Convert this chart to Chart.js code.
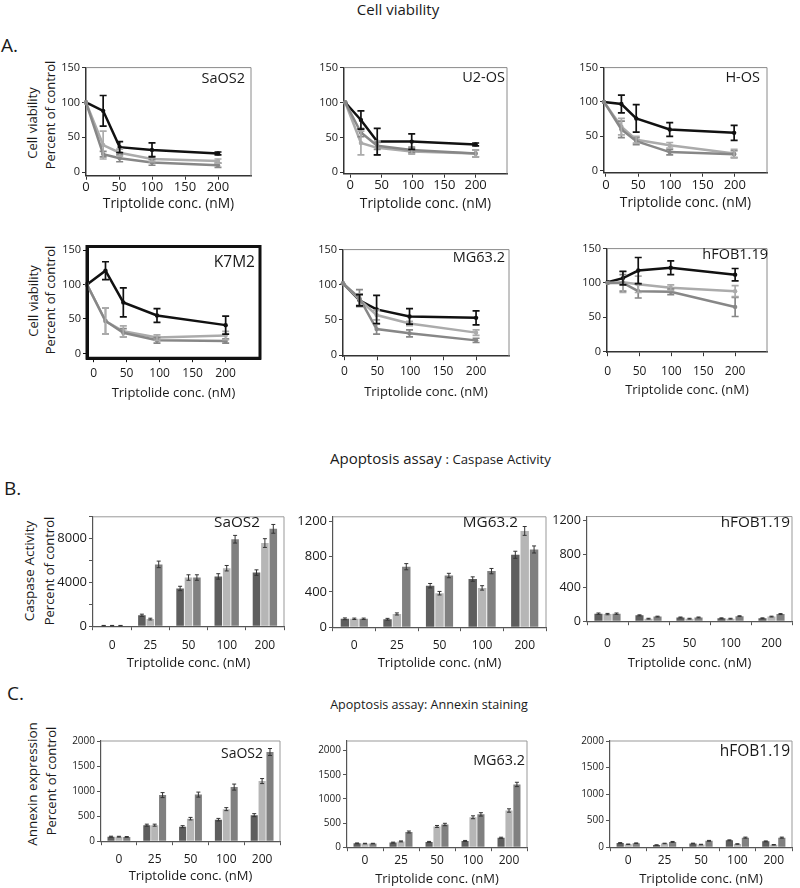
<!DOCTYPE html>
<html><head><meta charset="utf-8">
<script src="https://cdn.jsdelivr.net/npm/chart.js@4.4.0/dist/chart.umd.min.js"></script>
<style>
body{margin:0;background:#fff;font-family:'Open Sans',sans-serif;color:#1a1a1a}
#root{position:relative;width:800px;height:888px;overflow:hidden;background:#fff}
.t{position:absolute;white-space:nowrap;line-height:1;color:#1a1a1a}
canvas{position:absolute}
</style></head><body><div id="root"></div>
<script>
// ---------- shared labels / ticks ----------
const concLabels = ['0','25','50','100','200'];
const viabYTicks = [0,50,100,150];
const viabXTicks = [0,50,100,150,200];
const casSaosTicks = [0,2000,4000,6000,8000,10000];
const casSaosLabels = [0,4000,8000];
const casSmallTicks = [0,200,400,600,800,1000,1200];
const casSmallLabels = [0,400,800,1200];
const annTicks = [0,500,1000,1500,2000];

// ---------- A: cell viability ----------
const vSaos2X = [0,26,51,100,200];
const vSaos2Black = [100,88,36,32,27];
const vSaos2BlackErr = [0,22,8,10,2];
const vSaos2Light = [100,39,28,19,16];
const vSaos2LightErr = [0,20,5,4,3];
const vSaos2Mid = [100,26,20,14,10];
const vSaos2MidErr = [0,4,5,4,3];

const vU2osX = [-8,17,43,98,200];
const vU2osBlack = [100,75,44,44,40];
const vU2osBlackErr = [0,13,19,11,2];
const vU2osLight = [100,42,35,30,27];
const vU2osLightErr = [0,17,10,4,5];
const vU2osMid = [100,57,38,32,27];
const vU2osMidErr = [0,6,5,4,5];

const vHosX = [-3,24,47,99,199];
const vHosBlack = [100,97,76,60,55];
const vHosBlackErr = [0,13,20,10,11];
const vHosLight = [100,64,45,37,25];
const vHosLightErr = [0,12,5,4,6];
const vHosMid = [100,60,43,27,24];
const vHosMidErr = [0,12,5,4,5];

const vK7X = [-10,18,45,96,200];
const vK7Black = [100,120,74,55,41];
const vK7BlackErr = [0,13,21,10,13];
const vK7Light = [100,47,32,23,26];
const vK7LightErr = [0,19,8,4,6];
const vK7Mid = [100,47,30,19,18];
const vK7MidErr = [0,19,6,4,3];

const vMgX = [-2,23,49,99,200];
const vMgBlack = [102,78,65,55,53];
const vMgBlackErr = [0,8,20,11,10];
const vMgLight = [102,79,57,45,32];
const vMgLightErr = [0,8,7,3,4];
const vMgMid = [102,81,37,31,21];
const vMgMidErr = [0,12,7,5,3];

const vHfobX = [0,24,48,99,200];
const vHfobBlack = [101,107,118,122,112];
const vHfobBlackErr = [0,10,19,10,9];
const vHfobLight = [100,101,98,93,88];
const vHfobLightErr = [0,15,12,4,8];
const vHfobMid = [100,100,88,87,65];
const vHfobMidErr = [0,12,10,4,14];

// ---------- B: caspase activity ----------
const cSaosDark = [50,1000,3450,4550,4900];
const cSaosDarkErr = [20,100,200,250,250];
const cSaosLight = [50,650,4450,5300,7600];
const cSaosLightErr = [20,80,250,250,400];
const cSaosMid = [50,5650,4450,7950,8900];
const cSaosMidErr = [20,300,250,350,400];

const cMgDark = [95,90,470,545,820];
const cMgDarkErr = [10,10,25,25,40];
const cMgLight = [95,150,385,445,1090];
const cMgLightErr = [8,12,20,25,50];
const cMgMid = [95,685,585,635,880];
const cMgMidErr = [8,35,25,30,40];

const cHfobDark = [90,70,45,35,35];
const cHfobDarkErr = [8,6,5,5,5];
const cHfobLight = [85,30,30,30,55];
const cHfobLightErr = [8,5,5,5,5];
const cHfobMid = [90,55,45,60,85];
const cHfobMidErr = [8,5,5,5,6];

// ---------- C: annexin ----------
const aSaosDark = [90,320,290,430,520];
const aSaosDarkErr = [10,20,20,25,30];
const aSaosLight = [90,320,450,640,1200];
const aSaosLightErr = [8,20,25,30,50];
const aSaosMid = [85,920,930,1080,1780];
const aSaosMidErr = [8,50,50,60,70];

const aMgDark = [80,95,110,130,195];
const aMgDarkErr = [8,10,10,10,12];
const aMgLight = [75,120,430,620,760];
const aMgLightErr = [6,10,20,30,35];
const aMgMid = [75,315,470,680,1300];
const aMgMidErr = [6,20,25,35,45];

const aHfobDark = [80,40,70,130,110];
const aHfobDarkErr = [6,5,6,8,8];
const aHfobLight = [55,70,50,60,45];
const aHfobLightErr = [5,5,5,5,5];
const aHfobMid = [75,100,120,180,180];
const aHfobMidErr = [6,8,8,10,10];

// ---------- styling ----------
const FONT = "'Open Sans', sans-serif";
const TXT = '#1a1a1a';
const C_BLACK = '#111111', C_LIGHT = '#ababab', C_MID = '#878787';
const B_DARK = '#5e5e5e', B_LIGHT = '#b6b6b6', B_MID = '#808080';
const root = document.getElementById('root');

function txt(s, x, y, size, opt){
  opt = opt||{};
  const d = document.createElement('div');
  d.className = 't';
  d.textContent = s;
  d.style.fontSize = size+'px';
  d.style.left = x+'px'; d.style.top = y+'px';
  let tr = '';
  if (opt.anchor === 'center') tr = 'translate(-50%,-50%)';
  else if (opt.anchor === 'right') tr = 'translate(-100%,-50%)';
  else tr = 'translate(0,-50%)';
  if (opt.rot) tr += ' rotate(-90deg)';
  d.style.transform = tr;
  root.appendChild(d);
  return d;
}

const errPlugin = {
  id:'err',
  afterDatasetsDraw(chart){
    const ctx = chart.ctx, ys = chart.scales.y;
    chart.data.datasets.forEach((ds,i)=>{
      if (!ds.err) return;
      const meta = chart.getDatasetMeta(i);
      meta.data.forEach((el,j)=>{
        const e = ds.err[j]; if (!e) return;
        const raw = ds.data[j]; const v = (typeof raw === 'object') ? raw.y : raw;
        const x = el.x, y1 = ys.getPixelForValue(v+e), y2 = ys.getPixelForValue(v-e);
        const c = ds.capW || 3;
        ctx.save();
        ctx.strokeStyle = ds.errColor || ds.borderColor;
        ctx.lineWidth = ds.errWidth || 1.5;
        ctx.beginPath();
        ctx.moveTo(x,y1); ctx.lineTo(x,y2);
        ctx.moveTo(x-c,y1); ctx.lineTo(x+c,y1);
        ctx.moveTo(x-c,y2); ctx.lineTo(x+c,y2);
        ctx.stroke(); ctx.restore();
      });
    });
  }
};
const framePlugin = {
  id:'frame',
  afterDraw(chart, args, opts){
    const a = chart.chartArea, ctx = chart.ctx;
    ctx.save();
    ctx.strokeStyle = opts.color || '#999';
    ctx.lineWidth = opts.width || 1;
    ctx.beginPath();
    if (opts.all){
      ctx.rect(a.left, a.top, a.right-a.left, a.bottom-a.top);
    } else {
      ctx.moveTo(a.left, a.top); ctx.lineTo(a.right, a.top); ctx.lineTo(a.right, a.bottom);
    }
    ctx.stroke(); ctx.restore();
  }
};

function panel(o){
  const padT = 6, padR = 6, lh = 1.2;
  const xTickFs = o.xTickFs || 12, yTickFs = o.yTickFs || 11, titleFs = o.titleFs || 13;
  const yW = 46;
  const xH = o.titleY - o.b + titleFs*lh/2;
  const tickLen = 4;
  const tickPad = Math.max(0, o.labelY - o.b - tickLen - xTickFs*lh/2);
  const W = Math.round(o.r - o.l + yW + padR), H = Math.round(o.b - o.t + xH + padT);
  const cv = document.createElement('canvas');
  cv.width = W; cv.height = H;
  cv.style.width = W+'px'; cv.style.height = H+'px';
  cv.style.left = (o.l - yW)+'px'; cv.style.top = (o.t - padT)+'px';
  root.appendChild(cv);
  const axisC = o.axisColor || '#333', axisW = o.axisWidth || 1.5;
  const xScale = {
    type: o.bar ? 'category' : 'linear',
    afterFit: s => { s.height = xH; },
    grid: {display:true, drawOnChartArea:false, drawTicks:true, tickLength:tickLen, color:axisC, offset: !!o.bar, lineWidth:1},
    border: {display:true, color:axisC, width:axisW},
    ticks: {font:{family:FONT, size:xTickFs, lineHeight:lh}, color:TXT, padding:tickPad, maxRotation:0, autoSkip:false},
    title: {display:true, text:'Triptolide conc. (nM)', font:{family:FONT, size:titleFs, lineHeight:lh}, color:TXT, padding:0}
  };
  if (!o.bar){
    xScale.min = o.xMin; xScale.max = o.xMax;
    xScale.afterBuildTicks = s => { s.ticks = viabXTicks.map(v=>({value:v})); };
  }
  const yLabels = o.yLabels || o.yTicks;
  const yScale = {
    min: o.yMin, max: o.yMax,
    afterFit: s => { s.width = yW; },
    afterBuildTicks: s => { s.ticks = o.yTicks.map(v=>({value:v})); },
    grid: {display:true, drawOnChartArea:false, drawTicks:true, tickLength:tickLen, color:axisC, lineWidth:1},
    border: {display:true, color:axisC, width:axisW},
    ticks: {font:{family:FONT, size:yTickFs, lineHeight:lh}, color:TXT, padding:2,
      callback: v => yLabels.includes(v) ? String(v) : ''}
  };
  new Chart(cv, {
    type: o.bar ? 'bar' : 'line',
    data: {labels: o.labels, datasets: o.datasets},
    options: {
      responsive:false, animation:false, events:[],
      layout:{padding:{top:padT, right:padR, left:0, bottom:0}},
      plugins:{legend:{display:false}, tooltip:{enabled:false},
        frame:{color:o.frameColor||'#8a8a8a', width:o.frameWidth||1, all:!!o.frameAll}},
      scales:{x:xScale, y:yScale}
    },
    plugins:[errPlugin, framePlugin]
  });
  if (o.name) txt(o.name, o.nameX, o.nameY, o.nameFs || 14.5, {anchor:'right'});
}

function lineSets(xs, black, bErr, light, lErr, mid, mErr){
  const mk = (ys, errs, col) => ({
    data: xs.map((x,i)=>({x:x, y:ys[i]})), err: errs,
    borderColor: col, backgroundColor: col, borderWidth: 2.5, pointRadius: 2.2,
    pointBorderWidth: 0, tension: 0, capW: 3.5, errWidth: 1.7, clip: false
  });
  return [mk(mid, mErr, C_MID), mk(light, lErr, C_LIGHT), mk(black, bErr, C_BLACK)];
}
function barSets(dark, dErr, light, lErr, mid, mErr){
  const mk = (vals, errs, col) => ({
    data: vals, err: errs, backgroundColor: col, borderColor: col, borderWidth: 0,
    barPercentage: 0.9, categoryPercentage: 0.66, errColor:'#333', errWidth:1, capW:2
  });
  return [mk(dark, dErr, B_DARK), mk(light, lErr, B_LIGHT), mk(mid, mErr, B_MID)];
}

// ---------- headings ----------
txt('Cell viability', 398, 9, 15, {anchor:'center'});
txt('A.', 1, 45, 19);
txt('Cell viability', 32, 123, 13, {anchor:'center', rot:true});
txt('Percent of control', 50, 115, 13, {anchor:'center', rot:true});
txt('Cell viability', 33, 301, 13, {anchor:'center', rot:true});
txt('Percent of control', 50, 300, 13, {anchor:'center', rot:true});

const bt = txt('', 330, 459, 15);
bt.innerHTML = 'Apoptosis assay <span style="font-size:13.2px">: Caspase Activity</span>';
txt('B.', 4, 488, 19);
txt('Caspase Activity', 30, 571, 13.5, {anchor:'center', rot:true});
txt('Percent of control', 49, 571, 13, {anchor:'center', rot:true});

txt('Apoptosis assay: Annexin staining', 429, 705, 12.6, {anchor:'center'});
txt('C.', 7, 693, 19);
txt('Annexin expression', 33, 784, 13.5, {anchor:'center', rot:true});
txt('Percent of control', 51, 781, 13, {anchor:'center', rot:true});

// ---------- A panels ----------
panel({l:86, t:65, r:251, b:176, xMin:0, xMax:250, yMin:-5, yMax:150, yTicks:viabYTicks,
  xTickFs:13, titleFs:13.8,
  labelY:186.5, titleY:204, datasets: lineSets(vSaos2X, vSaos2Black, vSaos2BlackErr, vSaos2Light, vSaos2LightErr, vSaos2Mid, vSaos2MidErr),
  name:'SaOS2', nameX:245, nameY:78});
panel({l:344, t:65, r:507, b:174, xMin:-10, xMax:250, yMin:-2, yMax:150, yTicks:viabYTicks,
  xTickFs:13, titleFs:13.8,
  labelY:185, titleY:204, datasets: lineSets(vU2osX, vU2osBlack, vU2osBlackErr, vU2osLight, vU2osLightErr, vU2osMid, vU2osMidErr),
  name:'U2-OS', nameX:505, nameY:77});
panel({l:604, t:65, r:767, b:173, xMin:-3, xMax:250, yMin:-3, yMax:150, yTicks:viabYTicks,
  xTickFs:13, titleFs:13.8,
  labelY:186, titleY:203, datasets: lineSets(vHosX, vHosBlack, vHosBlackErr, vHosLight, vHosLightErr, vHosMid, vHosMidErr),
  name:'H-OS', nameX:760, nameY:77});
panel({l:87, t:244, r:260, b:358, xMin:-10, xMax:252, yMin:-7, yMax:155, yTicks:viabYTicks,
  labelY:373, titleY:393, axisColor:'#111', axisWidth:3, frameColor:'#111', frameWidth:3, frameAll:true,
  datasets: lineSets(vK7X, vK7Black, vK7BlackErr, vK7Light, vK7LightErr, vK7Mid, vK7MidErr),
  name:'K7M2', nameX:255, nameY:262, nameFs:15.5});
panel({l:343, t:247, r:509, b:356, xMin:-2, xMax:250, yMin:-1.5, yMax:150, yTicks:viabYTicks,
  labelY:371, titleY:392, datasets: lineSets(vMgX, vMgBlack, vMgBlackErr, vMgLight, vMgLightErr, vMgMid, vMgMidErr),
  name:'MG63.2', nameX:505, nameY:257});
panel({l:607, t:246, r:767, b:352, xMin:-1, xMax:250, yMin:-1, yMax:150, yTicks:viabYTicks,
  labelY:371, titleY:390, datasets: lineSets(vHfobX, vHfobBlack, vHfobBlackErr, vHfobLight, vHfobLightErr, vHfobMid, vHfobMidErr),
  name:'hFOB1.19', nameX:768, nameY:254});

// ---------- B panels ----------
panel({bar:true, labels:concLabels, l:93, t:513, r:284, b:626, yMin:0, yMax:10000, yTicks:casSaosTicks, yLabels:casSaosLabels,
  yTickFs:13, labelY:645, titleY:663, axisColor:'#555', axisWidth:1.2, frameColor:'#999',
  datasets: barSets(cSaosDark, cSaosDarkErr, cSaosLight, cSaosLightErr, cSaosMid, cSaosMidErr),
  name:'SaOS2', nameX:260, nameY:522, nameFs:15.3});
panel({bar:true, labels:concLabels, l:333, t:513, r:546, b:627, yMin:0, yMax:1250, yTicks:casSmallTicks, yLabels:casSmallLabels,
  yTickFs:13, labelY:645, titleY:663, axisColor:'#555', axisWidth:1.2, frameColor:'#999',
  datasets: barSets(cMgDark, cMgDarkErr, cMgLight, cMgLightErr, cMgMid, cMgMidErr),
  name:'MG63.2', nameX:518, nameY:522, nameFs:15.3});
panel({bar:true, labels:concLabels, l:587, t:513, r:792, b:621, yMin:0, yMax:1250, yTicks:casSmallTicks, yLabels:casSmallLabels,
  yTickFs:12.6, labelY:643, titleY:663, axisColor:'#555', axisWidth:1.2, frameColor:'#999',
  datasets: barSets(cHfobDark, cHfobDarkErr, cHfobLight, cHfobLightErr, cHfobMid, cHfobMidErr),
  name:'hFOB1.19', nameX:790, nameY:522, nameFs:15.3});

// ---------- C panels ----------
panel({bar:true, labels:concLabels, l:101, t:739, r:280, b:841, yMin:0, yMax:2000, yTicks:annTicks,
  yTickFs:10, labelY:859, titleY:876, axisColor:'#555', axisWidth:1.2, frameColor:'#999',
  datasets: barSets(aSaosDark, aSaosDarkErr, aSaosLight, aSaosLightErr, aSaosMid, aSaosMidErr),
  name:'SaOS2', nameX:263, nameY:753, nameFs:14});
panel({bar:true, labels:concLabels, l:347, t:739, r:527, b:847, yMin:0, yMax:2200, yTicks:annTicks,
  yTickFs:10, labelY:860, titleY:879, axisColor:'#555', axisWidth:1.2, frameColor:'#999',
  datasets: barSets(aMgDark, aMgDarkErr, aMgLight, aMgLightErr, aMgMid, aMgMidErr),
  name:'MG63.2', nameX:525, nameY:760, nameFs:14.4});
panel({bar:true, labels:concLabels, l:610, t:739, r:792, b:847, yMin:0, yMax:2000, yTicks:annTicks,
  yTickFs:10, labelY:860, titleY:879, axisColor:'#555', axisWidth:1.2, frameColor:'#999',
  datasets: barSets(aHfobDark, aHfobDarkErr, aHfobLight, aHfobLightErr, aHfobMid, aHfobMidErr),
  name:'hFOB1.19', nameX:790, nameY:751, nameFs:15.5});
</script>
</body></html>
